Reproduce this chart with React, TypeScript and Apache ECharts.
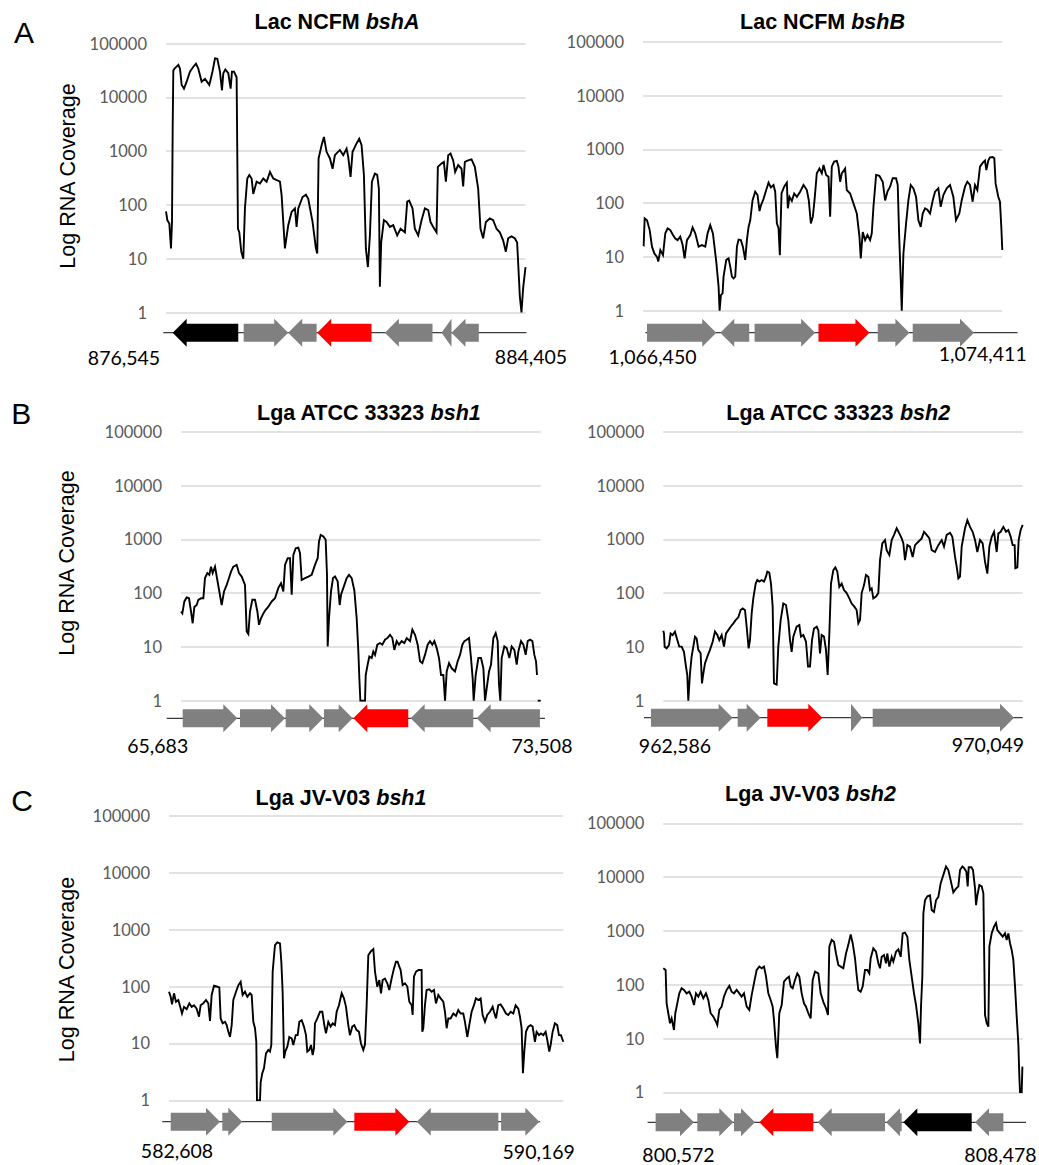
import React, { useEffect, useRef } from "react";
import * as echarts from "echarts";

// ---------- DATA ----------
const regionStart = [876545, 1066450, 65683, 962586, 582608, 800572];
const regionEnd = [884405, 1074411, 73508, 970049, 590169, 808478];
const regionStartLabels = ["876,545", "1,066,450", "65,683", "962,586", "582,608", "800,572"];
const regionEndLabels = ["884,405", "1,074,411", "73,508", "970,049", "590,169", "808,478"];
const titlePrefix = ["Lac NCFM", "Lac NCFM", "Lga ATCC 33323", "Lga ATCC 33323", "Lga JV-V03", "Lga JV-V03"];
const titleGene = ["bshA", "bshB", "bsh1", "bsh2", "bsh1", "bsh2"];
const panelLetters = ["A", "B", "C"];
const yAxisName = "Log RNA Coverage";
const yMin = 1;
const yMax = 100000;

// coverage: [offset from region start (bp), RNA coverage]
const bshACoverage = [[0,76],[29,52],[73,45],[109,15.5],[131,48],[146,2630],[160,31700],[197,35000],[270,40000],[306,34000],[342,17000],[393,14500],[452,19500],[524,30000],[597,37000],[656,42000],[707,34000],[779,19500],[852,22000],[947,17000],[1020,31000],[1071,53000],[1122,52000],[1180,30000],[1224,13500],[1253,28000],[1297,33000],[1362,28000],[1413,14500],[1442,30000],[1486,30000],[1544,23500],[1573,36],[1602,31],[1646,13.5],[1690,10],[1726,86],[1777,310],[1821,360],[1872,310],[1908,160],[1981,270],[2054,250],[2127,310],[2200,270],[2273,410],[2345,310],[2418,290],[2491,270],[2528,150],[2600,15.5],[2673,42],[2746,74],[2819,86],[2855,39],[2892,86],[2986,140],[3059,155],[3110,130],[3205,48],[3278,15.5],[3307,12.5],[3336,730],[3402,1290],[3453,1830],[3511,970],[3584,730],[3642,470],[3693,840],[3802,1050],[3875,840],[3948,1110],[3984,780],[4035,330],[4079,970],[4166,1390],[4225,1700],[4276,1290],[4327,360],[4370,15.5],[4414,7],[4458,27],[4502,270],[4567,380],[4618,360],[4654,200],[4676,3],[4705,20],[4764,52],[4822,48],[4895,39],[4968,42],[5055,27],[5128,36],[5223,31],[5274,115],[5317,120],[5390,86],[5441,36],[5514,27],[5587,52],[5660,86],[5733,80],[5783,48],[5842,39],[5915,31],[5944,510],[6024,590],[6075,630],[6119,270],[6170,840],[6221,900],[6279,670],[6322,410],[6388,550],[6461,470],[6497,220],[6534,630],[6607,670],[6680,700],[6752,510],[6825,200],[6876,36],[6934,24],[6993,48],[7080,56],[7153,52],[7226,36],[7298,31],[7371,22],[7430,13.5],[7481,24],[7553,26],[7626,24],[7677,20],[7706,6.5],[7736,2],[7772,1],[7808,2.8],[7860,7]];

const bshBCoverage = [[0,17],[15,16.6],[37,52],[89,48],[148,31.5],[199,15.5],[251,11.6],[310,10],[339,8.2],[384,13.4],[443,10.8],[494,27.4],[546,34],[605,31.5],[664,25.5],[716,22],[767,20.5],[826,23.8],[878,16.6],[922,9.4],[974,20.5],[1048,25.5],[1099,35.3],[1158,27.4],[1232,15.5],[1306,16.6],[1380,15.5],[1431,27.4],[1490,39],[1549,27.4],[1623,8.2],[1675,2.8],[1697,1],[1726,1.95],[1763,2.1],[1785,4.3],[1845,8.8],[1896,9.4],[1933,6.6],[1970,4.3],[2007,4],[2044,4.3],[2081,15.5],[2117,21],[2169,20.5],[2213,15.5],[2265,8.8],[2302,20.5],[2339,36],[2376,48],[2427,112],[2486,163],[2538,141],[2582,71],[2612,90],[2671,120],[2730,175],[2782,240],[2833,195],[2892,217],[2929,163],[2966,42],[3003,34],[3032,10.7],[3069,151],[3128,202],[3187,240],[3209,80],[3246,131],[3298,110],[3350,151],[3409,131],[3482,163],[3556,217],[3630,175],[3674,112],[3719,42],[3763,56],[3800,112],[3851,357],[3910,440],[3962,357],[3999,510],[4058,334],[4110,308],[4146,56],[4183,475],[4235,590],[4294,610],[4331,475],[4368,250],[4405,357],[4478,440],[4515,175],[4589,151],[4663,99],[4737,64],[4796,23.8],[4825,9.4],[4869,29],[4921,20.5],[4973,25.5],[5032,20.5],[5069,27.4],[5106,85],[5165,334],[5238,320],[5312,250],[5364,112],[5416,163],[5474,202],[5533,290],[5607,290],[5644,217],[5674,27.4],[5711,3.7],[5733,1],[5770,11.6],[5829,42],[5880,112],[5932,217],[5991,188],[6050,131],[6102,48],[6153,36],[6198,64],[6249,80],[6301,75],[6360,64],[6419,112],[6471,163],[6544,188],[6596,85],[6655,141],[6729,188],[6803,217],[6876,131],[6935,48],[7009,64],[7061,112],[7135,202],[7186,250],[7245,217],[7304,106],[7356,217],[7408,175],[7467,475],[7526,560],[7577,620],[7607,410],[7651,620],[7688,710],[7747,720],[7784,680],[7813,230],[7872,131],[7909,106],[7939,36],[7961,13.4]];

const atccBsh1Coverage = [[0,45.5],[29,42],[73,70],[123,83],[174,80],[218,45.5],[254,27.5],[290,55],[341,60],[377,75],[435,80],[486,80],[522,190],[573,235],[616,218],[653,310],[689,235],[740,310],[790,175],[834,107],[885,60],[936,107],[994,142],[1030,175],[1088,250],[1139,310],[1211,335],[1262,235],[1320,203],[1392,142],[1429,19.3],[1465,17.3],[1501,45.5],[1552,75],[1610,75],[1661,45.5],[1697,25.7],[1740,34],[1791,42],[1842,49],[1900,56],[1973,70],[2045,80],[2118,125],[2176,153],[2226,107],[2263,335],[2321,445],[2371,445],[2408,93],[2444,510],[2495,680],[2553,700],[2589,550],[2625,175],[2698,190],[2770,203],[2843,218],[2915,335],[2973,445],[3002,910],[3039,1210],[3097,1130],[3147,980],[3176,218],[3191,10.2],[3220,34],[3263,107],[3307,190],[3350,203],[3408,165],[3452,60],[3481,93],[3532,125],[3604,190],[3655,218],[3713,190],[3771,112],[3822,34],[3858,8.2],[3880,2.6],[3902,1],[4003,1],[4018,3],[4061,4.7],[4097,6.6],[4148,6.2],[4184,8.2],[4221,7.1],[4271,11],[4329,11.8],[4380,11],[4438,13.6],[4489,14.6],[4547,16.8],[4598,14.6],[4641,8.8],[4692,12.8],[4743,11],[4801,12.8],[4859,11.8],[4910,14.6],[4982,12.8],[5033,21],[5091,16.8],[5149,11],[5200,5.4],[5250,5],[5308,7.1],[5366,11],[5417,12.8],[5468,11],[5512,12.8],[5562,9.5],[5613,6.2],[5657,3],[5707,3],[5744,1],[5780,3.5],[5831,5],[5889,4],[5961,3.5],[6019,5.4],[6070,7.1],[6121,11],[6164,12.8],[6215,13.6],[6266,14.6],[6309,6.2],[6345,2.6],[6367,1],[6411,3],[6469,6.2],[6527,6.2],[6578,4],[6614,1],[6650,1.7],[6701,3.5],[6744,4.7],[6795,14.6],[6846,18],[6889,12.8],[6918,2],[6947,1],[6976,6.2],[7034,10.2],[7085,9.5],[7143,6.2],[7194,10.2],[7252,8.8],[7303,4.7],[7339,8.2],[7397,12.8],[7448,11],[7499,7.1],[7542,12.8],[7593,13.6],[7644,12.8],[7687,7.1],[7723,5.4],[7745,3],[7752,"-"],[7760,1],[7825,1]];

const atccBsh2Coverage = [[0,20],[14,17.8],[28,10.1],[69,9.4],[118,10.8],[152,17.8],[194,16.6],[242,19.2],[291,13.4],[332,10.1],[381,10.1],[429,8.1],[471,4.3],[498,3],[519,1],[554,3.2],[588,6.6],[623,10.1],[658,15.5],[692,14.4],[727,8.8],[775,7.6],[803,2.1],[831,3.2],[865,4.9],[914,6.6],[969,8.8],[1025,12.5],[1073,19.2],[1122,16.6],[1163,13.4],[1212,16.6],[1260,10.1],[1302,17.8],[1350,20.5],[1398,23.7],[1454,27.4],[1502,31.5],[1558,35.4],[1606,48.5],[1648,52],[1696,48.5],[1731,23.7],[1772,9.4],[1800,13.4],[1835,42],[1869,80],[1918,150],[1952,175],[1994,164],[2042,175],[2091,164],[2132,202],[2160,250],[2201,240],[2236,150],[2271,56],[2298,2.1],[2354,2],[2388,10.1],[2437,31.5],[2492,64],[2548,60],[2596,31.5],[2631,13.4],[2665,8.1],[2700,15.5],[2769,23.7],[2825,25.5],[2859,15.5],[2908,16.6],[2963,12.5],[3005,4.3],[3046,4.3],[3088,13.4],[3129,22],[3185,23.7],[3219,20.5],[3254,7.6],[3288,16.6],[3337,15.5],[3378,8.8],[3413,3],[3448,17.8],[3482,150],[3531,268],[3572,300],[3614,250],[3655,130],[3704,150],[3752,114],[3808,100],[3863,80],[3912,64],[3967,56],[4015,48.5],[4050,27.4],[4085,31.5],[4119,100],[4168,141],[4209,217],[4258,202],[4292,114],[4327,122],[4361,80],[4417,86],[4465,100],[4500,410],[4548,840],[4604,970],[4638,630],[4694,510],[4742,970],[4791,1210],[4846,1600],[4901,1290],[4950,1040],[4985,840],[5019,410],[5068,780],[5123,730],[5178,470],[5227,780],[5296,900],[5365,1040],[5414,1380],[5469,1210],[5525,1040],[5573,630],[5642,580],[5711,780],[5781,970],[5829,730],[5885,1210],[5954,1320],[6002,1110],[6058,470],[6092,310],[6127,188],[6161,202],[6196,730],[6265,1600],[6314,2260],[6369,1700],[6424,1380],[6473,970],[6521,580],[6577,970],[6632,840],[6681,380],[6729,230],[6771,730],[6819,1110],[6868,1380],[6923,580],[6958,1290],[7006,1380],[7061,1700],[7117,1380],[7165,1490],[7214,1110],[7255,780],[7296,780],[7310,290],[7352,300],[7379,970],[7421,1490],[7463,1850]];

const jvBsh1Coverage = [[0,81],[32,66],[58,48.5],[96,76],[134,54],[179,58],[224,41],[249,33.5],[288,44],[339,40],[390,50.5],[435,44],[479,47],[530,41],[575,29.5],[607,47],[658,50.5],[709,58],[754,50.5],[786,24.8],[818,71],[863,103],[914,100],[965,96],[991,27.5],[1029,22.5],[1074,24],[1106,21],[1138,16],[1170,13],[1202,21],[1233,58],[1285,81],[1329,105],[1374,121],[1412,71],[1457,81],[1502,66],[1553,76],[1585,71],[1617,24],[1649,18.5],[1674,10.7],[1687,1],[1745,1],[1758,2.1],[1789,3],[1821,3.65],[1860,6.7],[1904,7.7],[1936,7.2],[1962,9.4],[1988,183],[2032,535],[2077,595],[2128,570],[2154,272],[2179,81],[2205,5.5],[2230,7.2],[2269,8.8],[2307,13],[2352,12.3],[2384,9.4],[2429,14],[2467,14],[2499,24],[2544,25.6],[2588,19.8],[2627,14],[2652,7.2],[2691,7.7],[2723,9.4],[2755,6.25],[2780,8.2],[2799,22.5],[2844,27.5],[2895,36],[2940,36],[2978,21],[3010,15],[3055,24],[3100,19.8],[3138,22.5],[3183,21],[3215,36],[3259,47],[3311,76],[3355,62],[3394,44],[3438,21],[3470,14],[3515,19.8],[3553,21],[3598,17.2],[3643,16],[3681,10],[3726,7.7],[3758,9.6],[3790,47],[3822,355],[3867,410],[3918,455],[3950,183],[3994,99],[4033,130],[4065,76],[4097,130],[4141,138],[4186,114],[4224,87],[4269,138],[4314,208],[4352,272],[4384,272],[4416,223],[4442,195],[4480,106],[4525,114],[4570,100],[4608,54],[4653,47],[4672,31.6],[4697,149],[4736,183],[4787,195],[4844,195],[4857,16],[4876,18.5],[4908,47],[4940,87],[4991,89],[5036,81],[5081,87],[5119,50.5],[5164,71],[5209,62],[5260,54],[5292,36],[5324,18.5],[5356,27.5],[5400,27.5],[5452,33.5],[5503,30.6],[5547,38.6],[5592,33.5],[5643,33.5],[5675,24],[5720,13],[5758,21],[5803,36],[5848,47],[5886,62],[5931,58],[5976,62],[6014,31.6],[6059,24],[6103,31.6],[6155,36],[6206,44],[6231,36],[6270,27.5],[6314,47],[6359,48.5],[6410,41],[6461,33.5],[6506,31.6],[6551,36],[6602,33.5],[6647,47],[6698,41],[6730,29.5],[6762,18.5],[6787,3],[6813,7.2],[6845,16],[6889,19.8],[6934,21],[6973,19.8],[7017,10.7],[7049,16],[7094,14],[7132,15],[7177,14],[7222,16],[7254,11.5],[7292,7.2],[7318,9.4],[7356,16],[7400,22.5],[7445,21],[7477,14],[7516,14],[7561,10.7]];

const jvBsh2Coverage = [[0,202],[51,188],[73,45],[110,29.5],[147,19.2],[183,23.7],[235,14.4],[264,29.5],[308,45],[352,69],[403,86],[455,80],[513,69],[572,74],[623,60],[675,42],[719,69],[770,60],[821,74],[880,56],[939,69],[990,52],[1041,29.5],[1100,25.5],[1159,20.5],[1188,17.8],[1232,34],[1283,39],[1335,60],[1393,80],[1452,95],[1503,74],[1555,69],[1613,80],[1672,69],[1723,60],[1775,69],[1834,39],[1892,34],[1944,64],[1995,107],[2054,188],[2112,217],[2164,202],[2215,217],[2259,143],[2310,69],[2362,52],[2406,39],[2435,22],[2479,7],[2508,4.3],[2552,29.5],[2604,42],[2655,114],[2714,131],[2765,141],[2802,93],[2846,86],[2897,122],[2948,162],[2992,141],[3044,69],[3095,45],[3139,39],[3190,29.5],[3242,23.7],[3286,122],[3337,175],[3410,162],[3462,69],[3520,48],[3579,36.5],[3623,27.5],[3652,510],[3704,680],[3755,630],[3799,380],[3850,232],[3902,217],[3960,202],[4019,380],[4070,550],[4122,860],[4166,590],[4217,310],[4254,150],[4290,80],[4342,74],[4386,93],[4437,188],[4488,188],[4532,162],[4562,310],[4620,475],[4679,410],[4730,250],[4767,202],[4804,330],[4855,355],[4899,250],[4928,380],[4972,217],[5024,330],[5060,270],[5119,410],[5170,455],[5222,330],[5266,900],[5317,930],[5369,780],[5412,290],[5464,141],[5515,69],[5559,42],[5610,19.2],[5647,8.1],[5669,39],[5698,141],[5721,2130],[5757,3700],[5809,4400],[5867,4600],[5904,2450],[5955,2250],[5999,3700],[6051,4300],[6102,7700],[6161,11000],[6219,15700],[6270,13500],[6322,8700],[6380,5200],[6439,6100],[6490,6700],[6527,13500],[6579,15700],[6623,14500],[6667,12500],[6696,6700],[6718,15200],[6777,15200],[6813,13500],[6858,6100],[6880,3000],[6909,4600],[6953,7100],[7004,6700],[7041,5000],[7077,27.5],[7114,19.2],[7151,16.6],[7173,510],[7224,900],[7275,1200],[7319,1400],[7349,1040],[7407,900],[7466,780],[7517,900],[7554,680],[7590,900],[7627,590],[7664,440],[7700,290],[7737,93],[7774,25.5],[7810,8.1],[7832,2],[7847,1],[7884,1],[7899,3]];

// genes: [start offset, end offset, strand (1 forward / -1 reverse), colour class (0 other, 1 bsh, 2 highlighted)]
const bshAGenes = [[146,1580,-1,2],[1698,2672,1,0],[2672,3293,-1,0],[3306,4494,-1,1],[4785,5827,-1,0],[6024,6242,-1,0],[6242,6839,-1,0]];
const bshBGenes = [[89,1623,1,0],[1712,2354,-1,0],[2472,3814,1,0],[3888,5017,1,1],[5201,5902,1,0],[5976,7334,1,0]];
const atccBsh1Genes = [[37,1225,1,0],[1283,2262,1,0],[2277,3095,1,0],[3110,3735,1,0],[3748,4944,-1,1],[4996,6358,-1,0],[6431,7808,-1,0]];
const atccBsh2Genes = [[-256,1440,1,0],[1544,2022,1,0],[2160,3302,1,1],[3898,4133,1,0],[4348,7283,1,0]];
const jvBsh1Genes = [[33,978,1,0],[1022,1406,1,0],[1970,3420,1,0],[3554,4609,1,1],[4751,6316,-1,0],[6368,7102,1,0]];
const jvBsh2Genes = [[-169,675,1,0],[748,1540,1,0],[1555,2017,1,0],[2112,3300,-1,1],[3396,4877,-1,0],[4899,5244,-1,0],[5280,6784,-1,2],[6857,7481,-1,0]];

// genomic backbone line extents (offsets)
const trackExtents = [[-59, 7881], [52, 8300], [-311, 7917], [-402, 7463], [-129, 7116], [-345, 7979]];

const coverage = [bshACoverage, bshBCoverage, atccBsh1Coverage, atccBsh2Coverage, jvBsh1Coverage, jvBsh2Coverage];
const genes = [bshAGenes, bshBGenes, atccBsh1Genes, atccBsh2Genes, jvBsh1Genes, jvBsh2Genes];

// ---------- LAYOUT / STYLE ----------
const geneColours = ["#808080", "#ff0000", "#000000"];
const layout = [
  { left: 166, top: 43.5, width: 359.5, height: 269, gap: 20.2 },
  { left: 643, top: 41.7, width: 359.3, height: 269, gap: 22 },
  { left: 181, top: 431.7, width: 359.7, height: 269, gap: 17.6 },
  { left: 663.3, top: 431.7, width: 359.4, height: 269, gap: 17 },
  { left: 169, top: 815.7, width: 394.3, height: 284.7, gap: 21.3 },
  { left: 663.3, top: 823.3, width: 359.4, height: 269, gap: 30 },
];
const titlePos = [[337, 22], [822.5, 22], [368.7, 413.3], [838, 413.3], [341, 797.7], [810.5, 794.3]];
const startLabelPos = [[124, 357], [652.5, 356], [157.7, 745], [675, 745.7], [177, 1150.7], [678.5, 1154.3]];
const endLabelPos = [[531, 356], [982.7, 353.3], [542, 745], [988, 744], [538.7, 1151.7], [1000.5, 1154.5]];
const yNamePos = [[68, 176], [66.7, 563], [66.7, 969.5]];
const letterPos = [[24, 32], [21.3, 413], [22, 800]];

const ARIAL = '"Liberation Sans", Arial, sans-serif';
const CALIBRI = 'Lato, "Open Sans", sans-serif';
const BODY_HALF = 9;
const HEAD_HALF = 14;
const HEAD_LEN = 14;

function arrowRenderer(gap: number) {
  return (params: any, api: any) => {
    const s = api.coord([api.value(0), yMin]);
    const e = api.coord([api.value(1), yMin]);
    const dir = api.value(2);
    const col = geneColours[api.value(3)] || geneColours[0];
    const y = s[1] + gap;
    const x0 = s[0];
    const x1 = e[0];
    const hl = Math.min(HEAD_LEN, x1 - x0);
    let pts;
    if (dir > 0) {
      pts = [[x0, y - BODY_HALF], [x1 - hl, y - BODY_HALF], [x1 - hl, y - HEAD_HALF], [x1, y], [x1 - hl, y + HEAD_HALF], [x1 - hl, y + BODY_HALF], [x0, y + BODY_HALF]];
    } else {
      pts = [[x1, y - BODY_HALF], [x0 + hl, y - BODY_HALF], [x0 + hl, y - HEAD_HALF], [x0, y], [x0 + hl, y + HEAD_HALF], [x0 + hl, y + BODY_HALF], [x1, y + BODY_HALF]];
    }
    return { type: "polygon", shape: { points: pts }, style: { fill: col } };
  };
}

function trackRenderer(gap: number) {
  return (params: any, api: any) => {
    const a = api.coord([api.value(0), yMin]);
    const b = api.coord([api.value(1), yMin]);
    const y = a[1] + gap;
    return { type: "line", shape: { x1: a[0], y1: y, x2: b[0], y2: y }, style: { stroke: "#3a3a3a", lineWidth: 1.3 } };
  };
}

function buildOption() {
  const grid: any[] = [];
  const xAxis: any[] = [];
  const yAxis: any[] = [];
  const series: any[] = [];
  const graphic: any[] = [];

  for (let i = 0; i < 6; i++) {
    const L = layout[i];
    const st = regionStart[i];
    grid.push({ left: L.left, top: L.top, width: L.width, height: L.height, containLabel: false });
    xAxis.push({ type: "value", gridIndex: i, min: regionStart[i], max: regionEnd[i], show: false });
    yAxis.push({
      type: "log",
      logBase: 10,
      gridIndex: i,
      min: yMin,
      max: yMax,
      axisLine: { show: false },
      axisTick: { show: false },
      splitLine: { show: true, lineStyle: { color: "#d9d9d9", width: 1.5 } },
      axisLabel: {
        color: "#595959",
        fontSize: 16.5,
        fontFamily: CALIBRI,
        margin: 19,
        formatter: (v: number) => String(Math.round(v)),
      },
    });
    series.push({
      type: "custom",
      xAxisIndex: i,
      yAxisIndex: i,
      silent: true,
      z: 2,
      data: [[st + trackExtents[i][0], st + trackExtents[i][1]]],
      renderItem: trackRenderer(L.gap),
    });
    series.push({
      type: "custom",
      xAxisIndex: i,
      yAxisIndex: i,
      silent: true,
      z: 3,
      data: genes[i].map((g) => [st + g[0], st + g[1], g[2], g[3]]),
      renderItem: arrowRenderer(L.gap),
    });
    series.push({
      type: "line",
      xAxisIndex: i,
      yAxisIndex: i,
      silent: true,
      z: 4,
      showSymbol: false,
      symbol: "none",
      lineStyle: { color: "#000000", width: 1.9, join: "miter" },
      itemStyle: { color: "#000000" },
      data: coverage[i].map((p) => [st + (p[0] as number), p[1]]),
    });

    graphic.push({
      type: "text",
      x: titlePos[i][0],
      y: titlePos[i][1],
      style: {
        text: `{n|${titlePrefix[i]} }{g|${titleGene[i]}}`,
        rich: {
          n: { fontFamily: ARIAL, fontWeight: "bold", fontSize: 21.5, fill: "#000", color: "#000" },
          g: { fontFamily: ARIAL, fontWeight: "bold", fontStyle: "italic", fontSize: 21.5, fill: "#000", color: "#000" },
        },
        align: "center",
        verticalAlign: "middle",
        textAlign: "center",
        textVerticalAlign: "middle",
        fill: "#000",
      },
    });
    graphic.push({
      type: "text",
      x: startLabelPos[i][0],
      y: startLabelPos[i][1],
      style: { text: regionStartLabels[i], font: `19.5px ${CALIBRI}`, fill: "#000", align: "center", verticalAlign: "middle", textAlign: "center", textVerticalAlign: "middle" },
    });
    graphic.push({
      type: "text",
      x: endLabelPos[i][0],
      y: endLabelPos[i][1],
      style: { text: regionEndLabels[i], font: `19.5px ${CALIBRI}`, fill: "#000", align: "center", verticalAlign: "middle", textAlign: "center", textVerticalAlign: "middle" },
    });
  }

  for (let r = 0; r < 3; r++) {
    graphic.push({
      type: "text",
      x: yNamePos[r][0],
      y: yNamePos[r][1],
      rotation: Math.PI / 2,
      style: { text: yAxisName, font: `21.5px ${ARIAL}`, fill: "#000", align: "center", verticalAlign: "middle", textAlign: "center", textVerticalAlign: "middle" },
    });
    graphic.push({
      type: "text",
      x: letterPos[r][0],
      y: letterPos[r][1],
      style: { text: panelLetters[r], font: `30px ${ARIAL}`, fill: "#000", align: "center", verticalAlign: "middle", textAlign: "center", textVerticalAlign: "middle" },
    });
  }

  return {
    animation: false,
    backgroundColor: "#ffffff",
    grid,
    xAxis,
    yAxis,
    series,
    graphic,
  };
}

export default function App() {
  const ref = useRef<HTMLDivElement | null>(null);
  useEffect(() => {
    if (!ref.current) return;
    const chart = echarts.init(ref.current, null, { renderer: "svg" });
    chart.setOption(buildOption() as any);
    return () => chart.dispose();
  }, []);
  return (
    <div
      ref={ref}
      style={{ position: "absolute", left: 0, top: 0, width: "1039px", height: "1165px", background: "#fff" }}
    />
  );
}
